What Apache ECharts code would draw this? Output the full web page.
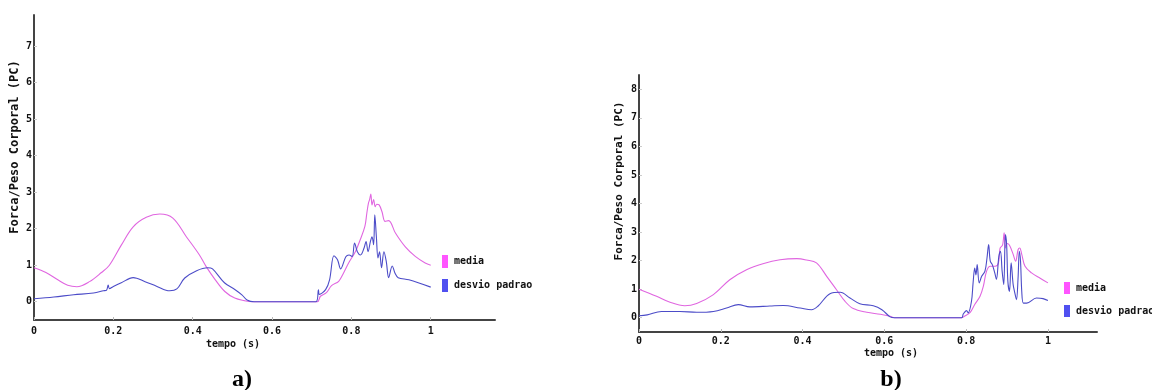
<!DOCTYPE html>
<html>
<head>
<meta charset="utf-8">
<script src="https://cdn.jsdelivr.net/npm/echarts@6/dist/echarts.min.js"></script>
<style>
  html, body { margin: 0; padding: 0; background: #fff; }
  #chart { width: 1152px; height: 390px; }
</style>
</head>
<body>
<div id="chart"></div>
<script>
// Ground reaction force over time, two trials: a) and b)
const seriesNames = ['media', 'desvio padrao'];
const xTicks = [0, 0.2, 0.4, 0.6, 0.8, 1];
const yTicksA = [0, 1, 2, 3, 4, 5, 6, 7];
const yTicksB = [0, 1, 2, 3, 4, 5, 6, 7, 8];

// a) media
const tMediaA = [0, 0.03, 0.06, 0.085, 0.108, 0.14, 0.17, 0.19, 0.22, 0.25, 0.283, 0.317, 0.35, 0.384, 0.417, 0.434, 0.457, 0.481, 0.506, 0.53, 0.55,
  0.714, 0.722, 0.737, 0.75, 0.768, 0.78, 0.793, 0.81, 0.822, 0.834, 0.839, 0.843, 0.846, 0.849, 0.852, 0.856, 0.86, 0.864, 0.87, 0.877, 0.885, 0.894, 0.911, 0.936, 0.961, 0.986, 1.0];
const mediaA = [0.93, 0.8, 0.6, 0.45, 0.41, 0.55, 0.8, 1.0, 1.55, 2.05, 2.31, 2.40, 2.29, 1.78, 1.28, 0.96, 0.6, 0.28, 0.1, 0.03, 0,
  0, 0.15, 0.25, 0.44, 0.56, 0.78, 1.06, 1.37, 1.69, 2.06, 2.43, 2.7, 2.8, 2.95, 2.65, 2.8, 2.6, 2.67, 2.65, 2.47, 2.2, 2.22, 1.88, 1.5, 1.24, 1.06, 1.0];

// a) desvio padrao
const tDesvioA = [0, 0.05, 0.1, 0.15, 0.175, 0.183, 0.187, 0.19, 0.2, 0.22, 0.25, 0.28, 0.31, 0.342, 0.36, 0.38, 0.41, 0.438, 0.45, 0.48, 0.507, 0.524, 0.537, 0.555,
  0.711, 0.717, 0.719, 0.735, 0.745, 0.756, 0.765, 0.773, 0.786, 0.794, 0.802, 0.808, 0.815, 0.823, 0.832, 0.837, 0.842, 0.848, 0.852, 0.856, 0.859, 0.863, 0.867, 0.871, 0.876, 0.882, 0.888, 0.894, 0.903, 0.91, 0.918, 0.945, 1.0];
const desvioA = [0.08, 0.13, 0.19, 0.24, 0.3, 0.32, 0.46, 0.36, 0.42, 0.52, 0.66, 0.55, 0.42, 0.3, 0.35, 0.65, 0.85, 0.93, 0.9, 0.52, 0.33, 0.19, 0.05, 0,
  0, 0.33, 0.2, 0.33, 0.6, 1.26, 1.15, 0.9, 1.23, 1.28, 1.24, 1.61, 1.37, 1.28, 1.47, 1.65, 1.37, 1.65, 1.78, 1.56, 2.38, 1.78, 1.2, 1.37, 0.93, 1.37, 1.1, 0.66, 0.98, 0.78, 0.66, 0.6, 0.4];

// b) media
const tMediaB = [0, 0.043, 0.076, 0.112, 0.141, 0.182, 0.222, 0.263, 0.303, 0.345, 0.386, 0.41, 0.434, 0.459, 0.483, 0.504, 0.524, 0.557, 0.59, 0.614, 0.625,
  0.789, 0.795, 0.81, 0.821, 0.834, 0.842, 0.85, 0.859, 0.871, 0.879, 0.883, 0.889, 0.893, 0.896, 0.9, 0.906, 0.915, 0.921, 0.927, 0.931, 0.936, 0.944, 0.96, 0.981, 1.0];
const mediaB = [1.0, 0.75, 0.54, 0.42, 0.5, 0.81, 1.33, 1.68, 1.89, 2.03, 2.07, 2.02, 1.92, 1.45, 0.98, 0.57, 0.32, 0.19, 0.12, 0.05, 0,
  0, 0.04, 0.19, 0.46, 0.75, 1.1, 1.63, 1.8, 1.8, 1.92, 2.44, 2.54, 2.97, 2.44, 2.6, 2.54, 2.22, 1.98, 2.38, 2.44, 2.22, 1.8, 1.57, 1.38, 1.22];

// b) desvio padrao
const tDesvioB = [0, 0.02, 0.055, 0.1, 0.141, 0.182, 0.214, 0.243, 0.271, 0.32, 0.353, 0.394, 0.422, 0.438, 0.467, 0.492, 0.516, 0.54, 0.573, 0.594, 0.614, 0.625,
  0.789, 0.793, 0.801, 0.805, 0.813, 0.817, 0.821, 0.824, 0.827, 0.832, 0.838, 0.846, 0.851, 0.855, 0.859, 0.864, 0.87, 0.874, 0.88, 0.884, 0.888, 0.892, 0.896, 0.899, 0.902, 0.906, 0.91, 0.915, 0.919, 0.923, 0.927, 0.93, 0.933, 0.936, 0.94, 0.948, 0.972, 0.988, 1.0];
const desvioB = [0.07, 0.1, 0.22, 0.22, 0.19, 0.22, 0.34, 0.46, 0.38, 0.41, 0.43, 0.34, 0.28, 0.41, 0.84, 0.89, 0.69, 0.49, 0.42, 0.28, 0.03, 0,
  0, 0.13, 0.25, 0.17, 0.57, 1.22, 1.74, 1.5, 1.86, 1.22, 1.45, 1.63, 2.09, 2.56, 1.98, 1.86, 1.57, 1.34, 2.15, 2.33, 1.63, 1.16, 2.91, 2.56, 1.28, 0.92, 1.92, 1.16, 0.87, 0.63, 1.4, 2.33, 1.98, 0.92, 0.51, 0.51, 0.69, 0.67, 0.6];

const pairs = (t, v) => t.map((x, i) => [x, v[i]]);

const MONO = '"DejaVu Sans Mono", "Liberation Mono", monospace';
const lineMedia = '#e066e0';
const lineDesvio = '#4c4cc8';
const keyMedia = '#ff55ff';
const keyDesvio = '#5050f0';

function xAxisFor(gridIndex, max, margin) {
  return {
    type: 'value', gridIndex, min: 0, max,
    axisLine: { show: true, onZero: false, lineStyle: { color: '#444', width: 2 } },
    axisTick: { show: true, inside: true, length: 3, lineStyle: { color: '#bbb' }, customValues: xTicks },
    axisLabel: { customValues: xTicks, margin, color: '#111', fontFamily: MONO, fontWeight: 'bold', fontSize: 10,
      formatter: v => String(+v.toFixed(1)) },
    splitLine: { show: false }
  };
}
function yAxisFor(gridIndex, max, ticks) {
  return {
    type: 'value', gridIndex, min: -0.5, max,
    axisLine: { show: true, onZero: false, lineStyle: { color: '#444', width: 2 } },
    axisTick: { show: true, inside: true, length: 3, lineStyle: { color: '#ccc' }, customValues: ticks },
    axisLabel: { customValues: ticks, margin: 2, color: '#111', fontFamily: MONO, fontWeight: 'bold', fontSize: 10 },
    splitLine: { show: false }
  };
}
function legendAt(left, top, h) {
  return {
    orient: 'vertical', left, top, itemWidth: 6, itemHeight: h, itemGap: 11, icon: 'rect',
    selectedMode: false,
    textStyle: { fontFamily: MONO, fontWeight: 'bold', fontSize: 10, color: '#111', padding: [0, 0, 0, 1] },
    data: [
      { name: seriesNames[0], itemStyle: { color: keyMedia } },
      { name: seriesNames[1], itemStyle: { color: keyDesvio } }
    ]
  };
}
function line(name, data, color, idx) {
  return {
    type: 'line', name, data, xAxisIndex: idx, yAxisIndex: idx,
    showSymbol: false, symbol: 'none', animation: false,
    smooth: 0.35,
    lineStyle: { color, width: 1.1 }, itemStyle: { color }
  };
}

const chart = echarts.init(document.getElementById('chart'));
chart.setOption({
  backgroundColor: '#fff',
  animation: false,
  grid: [
    { left: 34, top: 15, width: 461, height: 305 },
    { left: 639, top: 75, width: 458, height: 257 }
  ],
  xAxis: [xAxisFor(0, 1.162, 6), xAxisFor(1, 1.12, 4)],
  yAxis: [yAxisFor(0, 7.85, yTicksA), yAxisFor(1, 8.5, yTicksB)],
  legend: [legendAt(437, 250, 13), legendAt(1059, 277, 12)],
  series: [
    line(seriesNames[0], pairs(tMediaA, mediaA), lineMedia, 0),
    line(seriesNames[1], pairs(tDesvioA, desvioA), lineDesvio, 0),
    line(seriesNames[0], pairs(tMediaB, mediaB), lineMedia, 1),
    line(seriesNames[1], pairs(tDesvioB, desvioB), lineDesvio, 1)
  ],
  graphic: [
    { type: 'text', x: 15, y: 147, rotation: Math.PI / 2,
      style: { text: 'Forca/Peso Corporal (PC)', font: 'bold 12px ' + MONO, fill: '#111', align: 'center', verticalAlign: 'middle' } },
    { type: 'text', x: 619, y: 181, rotation: Math.PI / 2,
      style: { text: 'Forca/Peso Corporal (PC)', font: 'bold 11px ' + MONO, fill: '#111', align: 'center', verticalAlign: 'middle' } },
    { type: 'text', x: 233, y: 344,
      style: { text: 'tempo (s)', font: 'bold 10px ' + MONO, fill: '#111', align: 'center', verticalAlign: 'middle' } },
    { type: 'text', x: 891, y: 353,
      style: { text: 'tempo (s)', font: 'bold 10px ' + MONO, fill: '#111', align: 'center', verticalAlign: 'middle' } },
    { type: 'text', x: 242, y: 380,
      style: { text: 'a)', font: 'bold 24px "Liberation Serif", serif', fill: '#000', align: 'center', verticalAlign: 'middle' } },
    { type: 'text', x: 891, y: 380,
      style: { text: 'b)', font: 'bold 24px "Liberation Serif", serif', fill: '#000', align: 'center', verticalAlign: 'middle' } }
  ]
});
</script>
</body>
</html>
